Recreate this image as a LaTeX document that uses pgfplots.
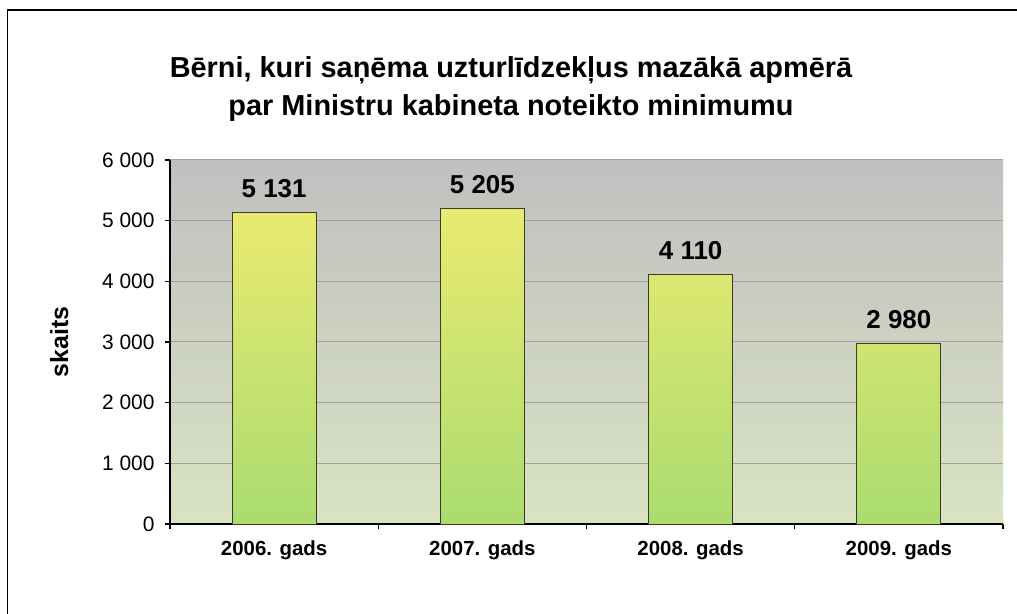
\documentclass[border=0pt]{standalone}
\usepackage{pgfplots}
\pgfplotsset{compat=1.18}
\usepackage{fontspec}
\setmainfont{Liberation Sans}
\definecolor{bgtop}{RGB}{192,192,192}
\definecolor{bgmid}{RGB}{217,217,214}
\definecolor{bgbot}{RGB}{217,227,195}
\definecolor{bartop}{RGB}{234,234,112}
\definecolor{barmid}{RGB}{218,234,116}
\definecolor{barbot}{RGB}{170,220,112}
\definecolor{baredge}{RGB}{60,60,30}
\definecolor{gridc}{RGB}{160,160,160}
\pgfplotstableread{
x y
0 5131
1 5205
2 4110
3 2980
}\datatable
\begin{document}
\begin{tikzpicture}[x=1bp,y=1bp]
\useasboundingbox (0,0) rectangle (1017,614);
\draw[line width=1.3bp] (7.5,0) -- (7.5,604) -- (1017,604);
\node[align=center,font=\fontsize{29}{38}\selectfont\bfseries] at (511,525)
  {Bērni, kuri saņēma uzturlīdzekļus mazākā apmērā\\par Ministru kabineta noteikto minimumu};
\begin{axis}[
  at={(170bp,90bp)}, anchor=south west,
  scale only axis, width=833bp, height=364bp,
  xmin=-0.5, xmax=3.5, ymin=0, ymax=6000,
  axis x line*=bottom, axis y line*=left,
  axis line style={line width=1.3bp, black},
  axis background/.style={top color=bgtop, middle color=bgmid, bottom color=bgbot},
  ytick={0,1000,2000,3000,4000,5000,6000},
  yticklabels={0,1 000,2 000,3 000,4 000,5 000,6 000},
  yticklabel style={font=\fontsize{21}{21}\selectfont, xshift=-7bp},
  ymajorgrids, grid style={gridc, line width=1bp},
  ytick style={black, line width=1.3bp},
  tick align=outside, major tick length=5bp,
  xtick={0,1,2,3},
  xticklabels={2006. gads,2007. gads,2008. gads,2009. gads},
  xticklabel style={font=\fontsize{20.5}{20.5}\selectfont\bfseries, yshift=-8bp},
  x tick style={draw=none},
  extra x ticks={-0.5,0.5,1.5,2.5,3.5},
  extra x tick labels={},
  extra x tick style={grid=none, x tick style={draw=black, line width=1.3bp}, tick align=outside, major tick length=5bp},
  ylabel={skaits},
  ylabel style={font=\fontsize{25}{25}\selectfont\bfseries, at={(axis description cs:-0.133,0.5)}, anchor=center},
  clip=false,
]
\addplot[ybar, bar width=84bp, draw=baredge, line width=0.9bp,
  top color=bartop, middle color=barmid, bottom color=barbot,
  nodes near coords={\pgfmathprintnumber[assume math mode=true,1000 sep={\ }]{\pgfplotspointmeta}},
  every node near coord/.append style={font=\fontsize{26}{26}\selectfont\bfseries, black, yshift=11bp, anchor=south},
] table[x=x,y=y] {\datatable};
\end{axis}
\end{tikzpicture}
\end{document}
